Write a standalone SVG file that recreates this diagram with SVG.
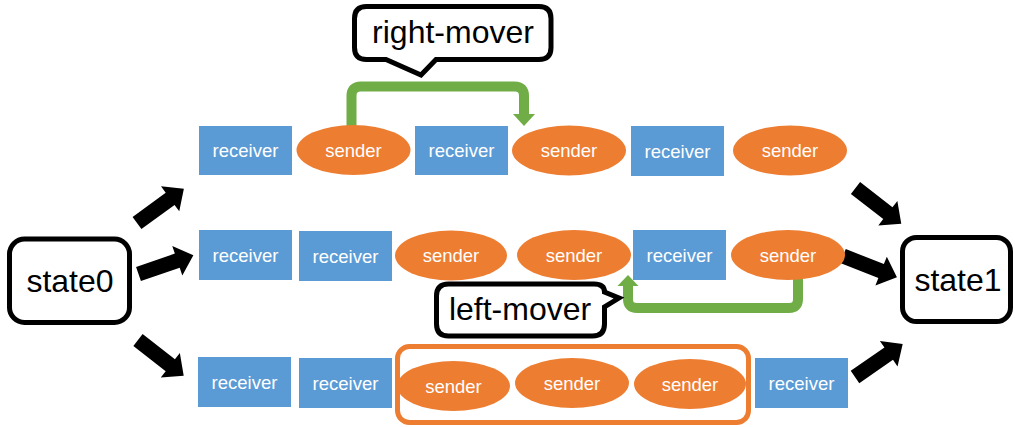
<svg xmlns="http://www.w3.org/2000/svg" width="1015" height="427" viewBox="0 0 1015 427">
<style>
.rc{fill:#5B9BD5}
.sd{fill:#ED7D31}
.lb{font-family:"Liberation Sans",Arial,sans-serif;font-size:18.5px;fill:#fff;text-anchor:middle}
.big{font-family:"Liberation Sans",Arial,sans-serif;font-size:32px;fill:#000;text-anchor:middle}
.box{fill:#fff;stroke:#000;stroke-width:5}
.gr{fill:none;stroke:#70AD47;stroke-width:10}
.gh{fill:#70AD47}
.blk{fill:#000}
</style>
<defs>
<path id="arr" d="M0,-7.5 H41 V-15.5 L58,0 L41,15.5 V7.5 H0 Z"/>
</defs>
<g id="connectors">
<use href="#arr" class="blk" transform="translate(137,223) rotate(-36.1)"/>
<use href="#arr" class="blk" transform="translate(138.5,274) rotate(-18.9)"/>
<use href="#arr" class="blk" transform="translate(138,340) rotate(38)"/>
<use href="#arr" class="blk" transform="translate(855.5,188) rotate(37.9)"/>
<use href="#arr" class="blk" transform="translate(843,256) rotate(21.6)"/>
<use href="#arr" class="blk" transform="translate(855,377) rotate(-34.7)"/>
<path class="gr" d="M351.5,128 V96 Q351.5,86.5 361,86.5 H514.5 Q524,86.5 524,96 V115"/>
<polygon class="gh" points="513,114 535,114 524,126"/>
<path class="gr" d="M798,278 V299 Q798,308 789,308 H637 Q628,308 628,299 V285"/>
<polygon class="gh" points="617.5,286 638.5,286 628,275"/>
</g>
<g id="state0"><rect class="box" x="9.5" y="239" width="120" height="83.5" rx="15"/><text class="big" x="70" y="292">state0</text></g>
<g id="state1"><rect class="box" x="902.5" y="237.5" width="108" height="84" rx="14"/><text class="big" x="958" y="291">state1</text></g>
<g id="right-mover"><path class="box" d="M366.5,6.5 H539 Q551,6.5 551,18.5 V47.5 Q551,59.5 539,59.5 H436 L421,75 L386,59.5 H366.5 Q354.5,59.5 354.5,47.5 V18.5 Q354.5,6.5 366.5,6.5 Z"/><text class="big" x="453" y="43">right-mover</text></g>
<g id="left-mover"><path class="box" d="M448.5,284 H594 Q604.5,284 604.5,292 L619,298 L604.5,307 V324 Q604.5,336 592.5,336 H448.5 Q436.5,336 436.5,324 V296 Q436.5,284 448.5,284 Z"/><text class="big" x="520" y="320">left-mover</text></g>
<g id="r1-receiver1"><rect class="rc" x="199" y="126" width="93" height="49"/><text class="lb" x="245.5" y="157">receiver</text></g>
<g id="r1-sender1"><ellipse class="sd" cx="353.5" cy="150" rx="57" ry="25"/><text class="lb" x="353.5" y="156.5">sender</text></g>
<g id="r1-receiver2"><rect class="rc" x="415" y="126" width="93" height="49"/><text class="lb" x="461.5" y="157">receiver</text></g>
<g id="r1-sender2"><ellipse class="sd" cx="569" cy="150.5" rx="57" ry="25"/><text class="lb" x="569" y="157">sender</text></g>
<g id="r1-receiver3"><rect class="rc" x="631" y="126" width="93" height="50"/><text class="lb" x="677.5" y="157.5">receiver</text></g>
<g id="r1-sender3"><ellipse class="sd" cx="790" cy="150.5" rx="57" ry="25"/><text class="lb" x="790" y="157">sender</text></g>
<g id="r2-receiver1"><rect class="rc" x="199" y="230" width="93" height="50"/><text class="lb" x="245.5" y="261.5">receiver</text></g>
<g id="r2-receiver2"><rect class="rc" x="299" y="231" width="93" height="50"/><text class="lb" x="345.5" y="262.5">receiver</text></g>
<g id="r2-sender1"><ellipse class="sd" cx="451" cy="255.5" rx="56" ry="25"/><text class="lb" x="451" y="262">sender</text></g>
<g id="r2-sender2"><ellipse class="sd" cx="574" cy="255" rx="57" ry="25"/><text class="lb" x="574" y="262">sender</text></g>
<g id="r2-receiver3"><rect class="rc" x="633" y="230" width="93" height="50"/><text class="lb" x="679.5" y="261.5">receiver</text></g>
<g id="r2-sender3"><ellipse class="sd" cx="788" cy="255" rx="57" ry="25"/><text class="lb" x="788" y="261.5">sender</text></g>
<g id="r3-receiver1"><rect class="rc" x="198" y="357" width="93" height="50"/><text class="lb" x="244.5" y="388.5">receiver</text></g>
<g id="r3-receiver2"><rect class="rc" x="299" y="358" width="93" height="50"/><text class="lb" x="345.5" y="389.5">receiver</text></g>
<g id="r3-sender1"><ellipse class="sd" cx="453.5" cy="386" rx="56.5" ry="25"/><text class="lb" x="453.5" y="392.5">sender</text></g>
<g id="r3-sender2"><ellipse class="sd" cx="572" cy="383" rx="57" ry="25"/><text class="lb" x="572" y="389.5">sender</text></g>
<g id="r3-sender3"><ellipse class="sd" cx="690" cy="384" rx="56" ry="25"/><text class="lb" x="690" y="390.5">sender</text></g>
<g id="sender-group"><rect x="397.5" y="346.5" width="351" height="76" rx="12" fill="none" stroke="#ED7D31" stroke-width="5"/></g>
<g id="r3-receiver3"><rect class="rc" x="755" y="358" width="93" height="50"/><text class="lb" x="801.5" y="389.5">receiver</text></g>
</svg>
